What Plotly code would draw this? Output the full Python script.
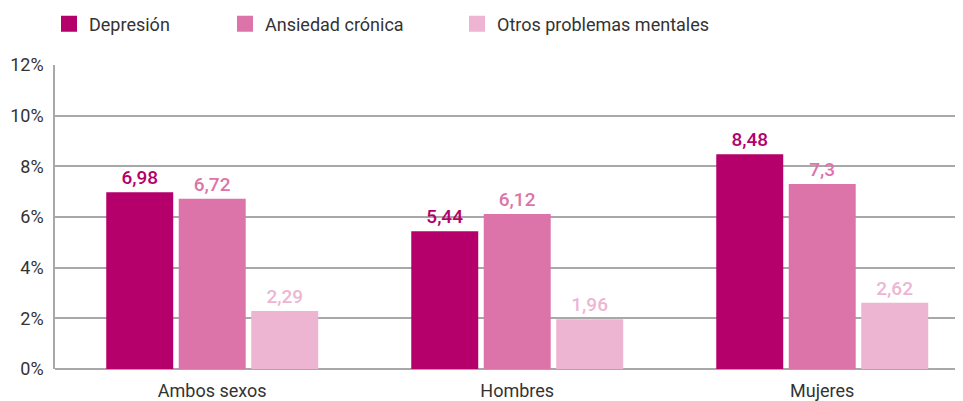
import plotly.graph_objects as go

categories = ["Ambos sexos", "Hombres", "Mujeres"]
series_names = ["Depresión", "Ansiedad crónica", "Otros problemas mentales"]
depresion = [6.98, 5.44, 8.48]
ansiedad = [6.72, 6.12, 7.3]
otros = [2.29, 1.96, 2.62]
y_ticks = [0, 2, 4, 6, 8, 10, 12]
y_tick_labels = [f"{v}%" for v in y_ticks]

colors = ["#B5006B", "#DC74AA", "#EEB5D3"]
FONT = "Roboto, Liberation Sans, sans-serif"

def fmt(v):
    return str(v).replace(".", ",")

W, H = 955, 393  # page body has an 8px margin

fig = go.Figure()
legend_ids = ["legend", "legend2", "legend3"]
for name, vals, col, lg in zip(series_names, [depresion, ansiedad, otros], colors, legend_ids):
    fig.add_trace(go.Bar(
        x=categories, y=vals, name=name,
        marker=dict(color=col, line=dict(width=0)),
        text=[fmt(v) for v in vals],
        textposition="outside",
        textfont=dict(family=FONT, size=19, color=col, weight=500),
        cliponaxis=False,
        showlegend=False,
    ))
    fig.add_trace(go.Scatter(
        x=[None], y=[None], mode="markers", name=name,
        marker=dict(symbol="square", size=18, color=col),
        legend=lg, showlegend=True,
    ))

leg_common = dict(orientation="h", xref="container", yref="container",
                  yanchor="middle", y=1 - 16 / H, xanchor="left",
                  font=dict(family=FONT, size=18, color="#333333"),
                  bgcolor="rgba(0,0,0,0)", itemsizing="trace")
fig.update_layout(
    width=W, height=H,
    margin=dict(l=47, r=0, t=56.5, b=32, autoexpand=False),
    paper_bgcolor="white", plot_bgcolor="white",
    barmode="group", bargap=0.287, bargroupgap=0.076,
    font=dict(family=FONT, size=18, color="#333333"),
    legend=dict(x=41 / W, **leg_common),
    legend2=dict(x=217 / W, **leg_common),
    legend3=dict(x=449 / W, **leg_common),
    xaxis=dict(range=[-0.5155, 2.4615], showgrid=False, ticks="",
               ticklabelstandoff=9,
               tickfont=dict(family=FONT, size=18, color="#333333"),
               showline=False, zeroline=False),
    yaxis=dict(range=[0, 12], tickmode="array", tickvals=y_ticks, ticktext=y_tick_labels,
               showgrid=True, gridcolor="#A8A8A8", gridwidth=1.5,
               showline=True, linecolor="#A8A8A8", linewidth=1.5,
               zeroline=True, zerolinecolor="#A8A8A8", zerolinewidth=1.5,
               ticks="", ticklabelstandoff=6,
               tickfont=dict(family=FONT, size=18, color="#333333")),
)

fig.write_html("out.html")
